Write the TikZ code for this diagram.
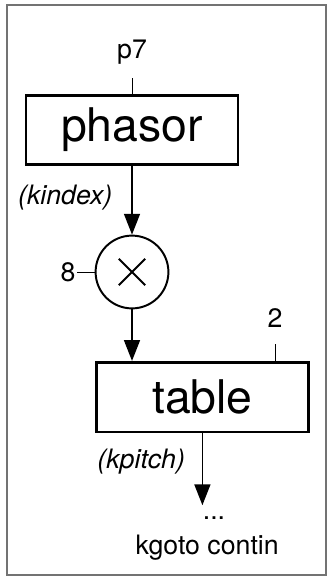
\documentclass[tikz,border=0pt]{standalone}
\usepackage{fontspec}
\setmainfont{TeX Gyre Heros}
\usepackage{tikz}
\usetikzlibrary{arrows.meta, positioning, calc}
\definecolor{framegray}{gray}{0.45}

\begin{document}
\begin{tikzpicture}[
    opbox/.style={draw, line width=2.1pt, minimum width=5.3cm,
                minimum height=1.74cm, inner sep=0pt, font=\fontsize{33}{40}\selectfont},
    mulop/.style={draw, circle, line width=1.4pt, minimum size=1.82cm, inner sep=0pt},
    lbl/.style={inner sep=1pt, font=\fontsize{19}{23}\selectfont},
    var/.style={lbl, font=\fontsize{19}{23}\selectfont\itshape},
    arr/.style={-{Triangle[length=0.52cm, width=0.4cm]}, line width=1pt},
    stub/.style={line width=0.7pt},
  ]
    \useasboundingbox (0,0) rectangle (8.175,-14.5);
    \draw[framegray, line width=1.1pt] (0.175,-0.125) rectangle (8.15,-14.375);

    % oscillator and scaling
    \node[opbox]  (phasor) at (3.3,-3.25)  {phasor};
    \node[lbl]    (p7)     at (3.3,-1.3)   {p7};
    \node[mulop]  (mul)    at (3.3,-6.8)   {};
    \draw[line width=1.4pt] ($(mul)+(-0.33,0.33)$) -- ($(mul)+(0.33,-0.33)$)
                            ($(mul)+(-0.33,-0.33)$) -- ($(mul)+(0.33,0.33)$);
    \node[lbl]    (eight)  at (1.7,-6.8)   {8};
    \node[var]    (kindex) at (1.63,-4.93) {(kindex)};

    % lookup
    \node[opbox]  (table)  at (5.06,-9.93) {table};
    \node[lbl]    (two)    at (6.875,-7.95) {2};
    \node[var]    (kpitch) at (3.53,-11.55) {(kpitch)};
    \coordinate   (out)    at (5.06,-12.63);
    \node[lbl]    (dots)   at (5.35,-12.95) {...};
    \node[lbl]    (kgoto)  at (5.18,-13.68) {kgoto contin};

    \draw[stub] (phasor.north) -- ++(0,0.4);
    \draw[stub] (mul.west) -- ++(-0.45,0);
    \draw[stub] (table.north -| two) -- ++(0,0.43);
    \draw[arr] (phasor.south) -- (mul.north);
    \draw[arr] (mul.south) -- (mul.south |- table.north);
    \draw[arr] (table.south) -- (out);
  \end{tikzpicture}
\end{document}
